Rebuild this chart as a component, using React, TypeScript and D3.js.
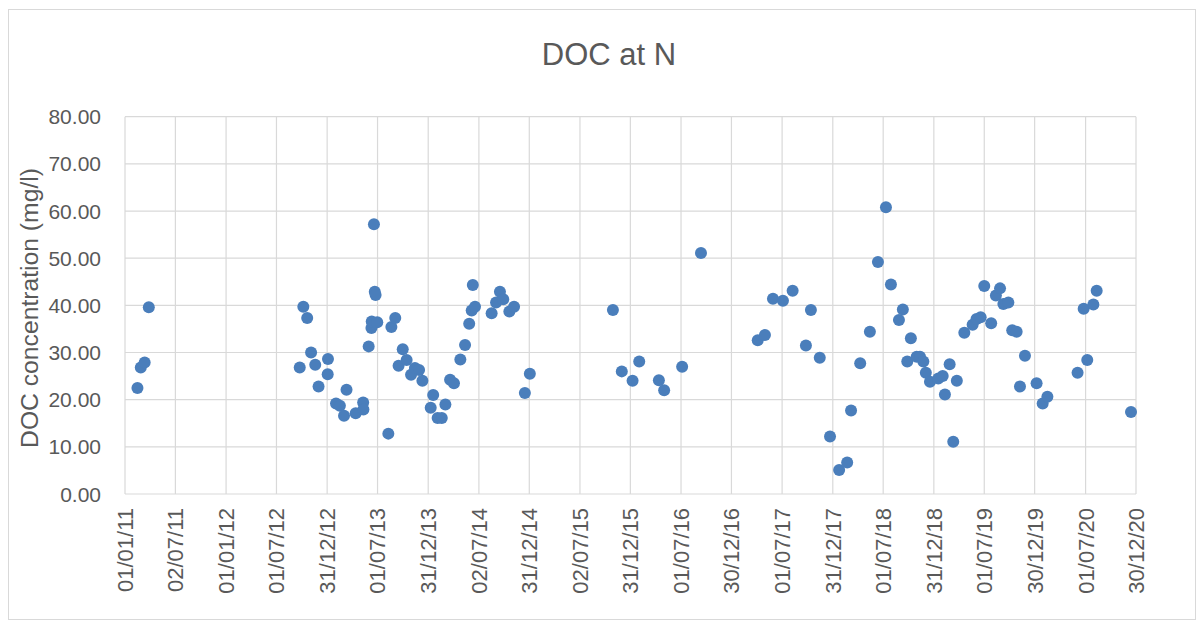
import React from "react";
import * as d3 from "d3";

// Sampling dates (YYYY-MM-DD) and DOC concentrations (mg/l)
const sampleDates: string[] = [
  "2011-02-15", "2011-02-27", "2011-03-13", "2011-03-28",
  "2012-09-23", "2012-10-06", "2012-10-20", "2012-11-03", "2012-11-18", "2012-11-30",
  "2013-01-02", "2013-01-03", "2013-02-01", "2013-02-15", "2013-03-02", "2013-03-11",
  "2013-04-13", "2013-05-10", "2013-05-11", "2013-05-30", "2013-06-09", "2013-06-10",
  "2013-06-18", "2013-06-21", "2013-06-24", "2013-06-30", "2013-08-09", "2013-08-20",
  "2013-09-03", "2013-09-15", "2013-09-30", "2013-10-14", "2013-10-30", "2013-11-13",
  "2013-11-28", "2013-12-10",
  "2014-01-09", "2014-01-18", "2014-02-03", "2014-02-18", "2014-03-03", "2014-03-20",
  "2014-04-03", "2014-04-26", "2014-05-13", "2014-05-28", "2014-06-06", "2014-06-10",
  "2014-06-18", "2014-08-17", "2014-09-02", "2014-09-16", "2014-09-28", "2014-10-20",
  "2014-11-06", "2014-12-15", "2015-01-02",
  "2015-10-29", "2015-11-30", "2016-01-08", "2016-02-01", "2016-04-12", "2016-05-01",
  "2016-07-05", "2016-09-11",
  "2017-04-04", "2017-04-30", "2017-05-29", "2017-07-04", "2017-08-08", "2017-09-25",
  "2017-10-13", "2017-11-14", "2017-12-21",
  "2018-01-23", "2018-02-21", "2018-03-07", "2018-04-09", "2018-05-14", "2018-06-12",
  "2018-07-11", "2018-07-29", "2018-08-27", "2018-09-10", "2018-09-26", "2018-10-09",
  "2018-10-30", "2018-11-11", "2018-11-23", "2018-12-02", "2018-12-17",
  "2019-01-16", "2019-02-01", "2019-02-09", "2019-02-26", "2019-03-11", "2019-03-24",
  "2019-04-20", "2019-05-20", "2019-06-03", "2019-06-18", "2019-07-01", "2019-07-26",
  "2019-08-12", "2019-08-27", "2019-09-08", "2019-09-26", "2019-10-10", "2019-10-26",
  "2019-11-07", "2019-11-25",
  "2020-01-06", "2020-01-28", "2020-02-14", "2020-06-02", "2020-06-24", "2020-07-07",
  "2020-07-29", "2020-08-10", "2020-12-12",
];

const docValues: number[] = [
  22.5, 26.8, 27.9, 39.6,
  26.8, 39.7, 37.3, 30.0, 27.4, 22.8,
  25.4, 28.6, 19.2, 18.7, 16.6, 22.1,
  17.1, 19.4, 17.9, 31.3, 35.2, 36.6,
  57.2, 42.9, 42.2, 36.4, 12.8, 35.4,
  37.3, 27.2, 30.7, 28.4, 25.3, 26.7,
  26.3, 24.0,
  18.3, 21.0, 16.1, 16.1, 19.0, 24.2,
  23.5, 28.5, 31.6, 36.1, 38.9, 44.3,
  39.7, 38.3, 40.6, 42.9, 41.3, 38.7,
  39.7, 21.4, 25.5,
  39.0, 26.0, 24.0, 28.1, 24.1, 22.0,
  27.0, 51.1,
  32.6, 33.7, 41.4, 41.0, 43.1, 31.5,
  39.0, 28.9, 12.2,
  5.1, 6.7, 17.7, 27.7, 34.4, 49.2,
  60.8, 44.4, 36.9, 39.1, 28.1, 33.0,
  29.1, 29.1, 28.1, 25.7, 23.8,
  24.5, 25.0, 21.1, 27.5, 11.1, 24.0,
  34.2, 35.9, 37.1, 37.5, 44.1, 36.2,
  42.1, 43.6, 40.3, 40.6, 34.7, 34.4,
  22.8, 29.3,
  23.5, 19.2, 20.6, 25.7, 39.3, 28.4,
  40.2, 43.1, 17.4,
];

const xTickLabels: string[] = [
  "01/01/11", "02/07/11", "01/01/12", "01/07/12", "31/12/12", "01/07/13", "31/12/13",
  "02/07/14", "31/12/14", "02/07/15", "31/12/15", "01/07/16", "30/12/16", "01/07/17",
  "31/12/17", "01/07/18", "31/12/18", "01/07/19", "30/12/19", "01/07/20", "30/12/20",
];

const yTickValues: number[] = [0, 10, 20, 30, 40, 50, 60, 70, 80];

const chartTitle = "DOC at N";
const yAxisTitle = "DOC concentration (mg/l)";

const W = 1204;
const H = 628;
const plot = { left: 125, right: 1136, top: 116.7, bottom: 494 };
const FONT = "'Liberation Sans', Arial, sans-serif";
const TEXT = "#595959";
const GRID = "#d9d9d9";
const DOT = "#4a7ebb";

export default function App() {
  const parseDate = d3.utcParse("%Y-%m-%d");
  const parseTick = d3.utcParse("%d/%m/%y");
  const tickDates = xTickLabels.map((t) => parseTick(t) as Date);

  const x = d3
    .scaleUtc()
    .domain([tickDates[0], tickDates[tickDates.length - 1]])
    .range([plot.left, plot.right]);
  const y = d3.scaleLinear().domain([0, 80]).range([plot.bottom, plot.top]);
  const fmt = d3.format(".2f");

  const points = sampleDates.map((d, i) => ({ date: parseDate(d) as Date, v: docValues[i] }));

  return (
    <svg
      width={W}
      height={H}
      style={{ position: "absolute", left: 0, top: 0, background: "#fff" }}
      fontFamily={FONT}
    >
      <rect x={0} y={0} width={W} height={H} fill="#fff" />
      <rect x={8.5} y={9.5} width={1187} height={610} fill="#fff" stroke={GRID} strokeWidth={1} />

      {/* horizontal gridlines */}
      {yTickValues.map((v) => (
        <line
          key={"h" + v}
          x1={plot.left}
          x2={plot.right}
          y1={y(v)}
          y2={y(v)}
          stroke={GRID}
          strokeWidth={1.2}
        />
      ))}
      {/* vertical gridlines */}
      {tickDates.map((d, i) => (
        <line
          key={"v" + i}
          x1={x(d)}
          x2={x(d)}
          y1={plot.top}
          y2={plot.bottom}
          stroke={GRID}
          strokeWidth={1.2}
        />
      ))}

      {/* y tick labels */}
      {yTickValues.map((v) => (
        <text
          key={"yl" + v}
          x={101}
          y={y(v)}
          dy="0.36em"
          textAnchor="end"
          fontSize={21}
          fill={TEXT}
        >
          {fmt(v)}
        </text>
      ))}

      {/* x tick labels */}
      {tickDates.map((d, i) => (
        <text
          key={"xl" + i}
          transform={`translate(${x(d)},508) rotate(-90)`}
          dy="0.36em"
          textAnchor="end"
          fontSize={22}
          fill={TEXT}
        >
          {xTickLabels[i]}
        </text>
      ))}

      {/* points */}
      {points.map((p, i) => (
        <circle key={"p" + i} cx={x(p.date)} cy={y(p.v)} r={6} fill={DOT} />
      ))}

      {/* titles */}
      <text x={609} y={65} textAnchor="middle" fontSize={31} fill={TEXT}>
        {chartTitle}
      </text>
      <text
        transform={`translate(38,308) rotate(-90)`}
        textAnchor="middle"
        fontSize={24.7}
        fill={TEXT}
      >
        {yAxisTitle}
      </text>
    </svg>
  );
}
